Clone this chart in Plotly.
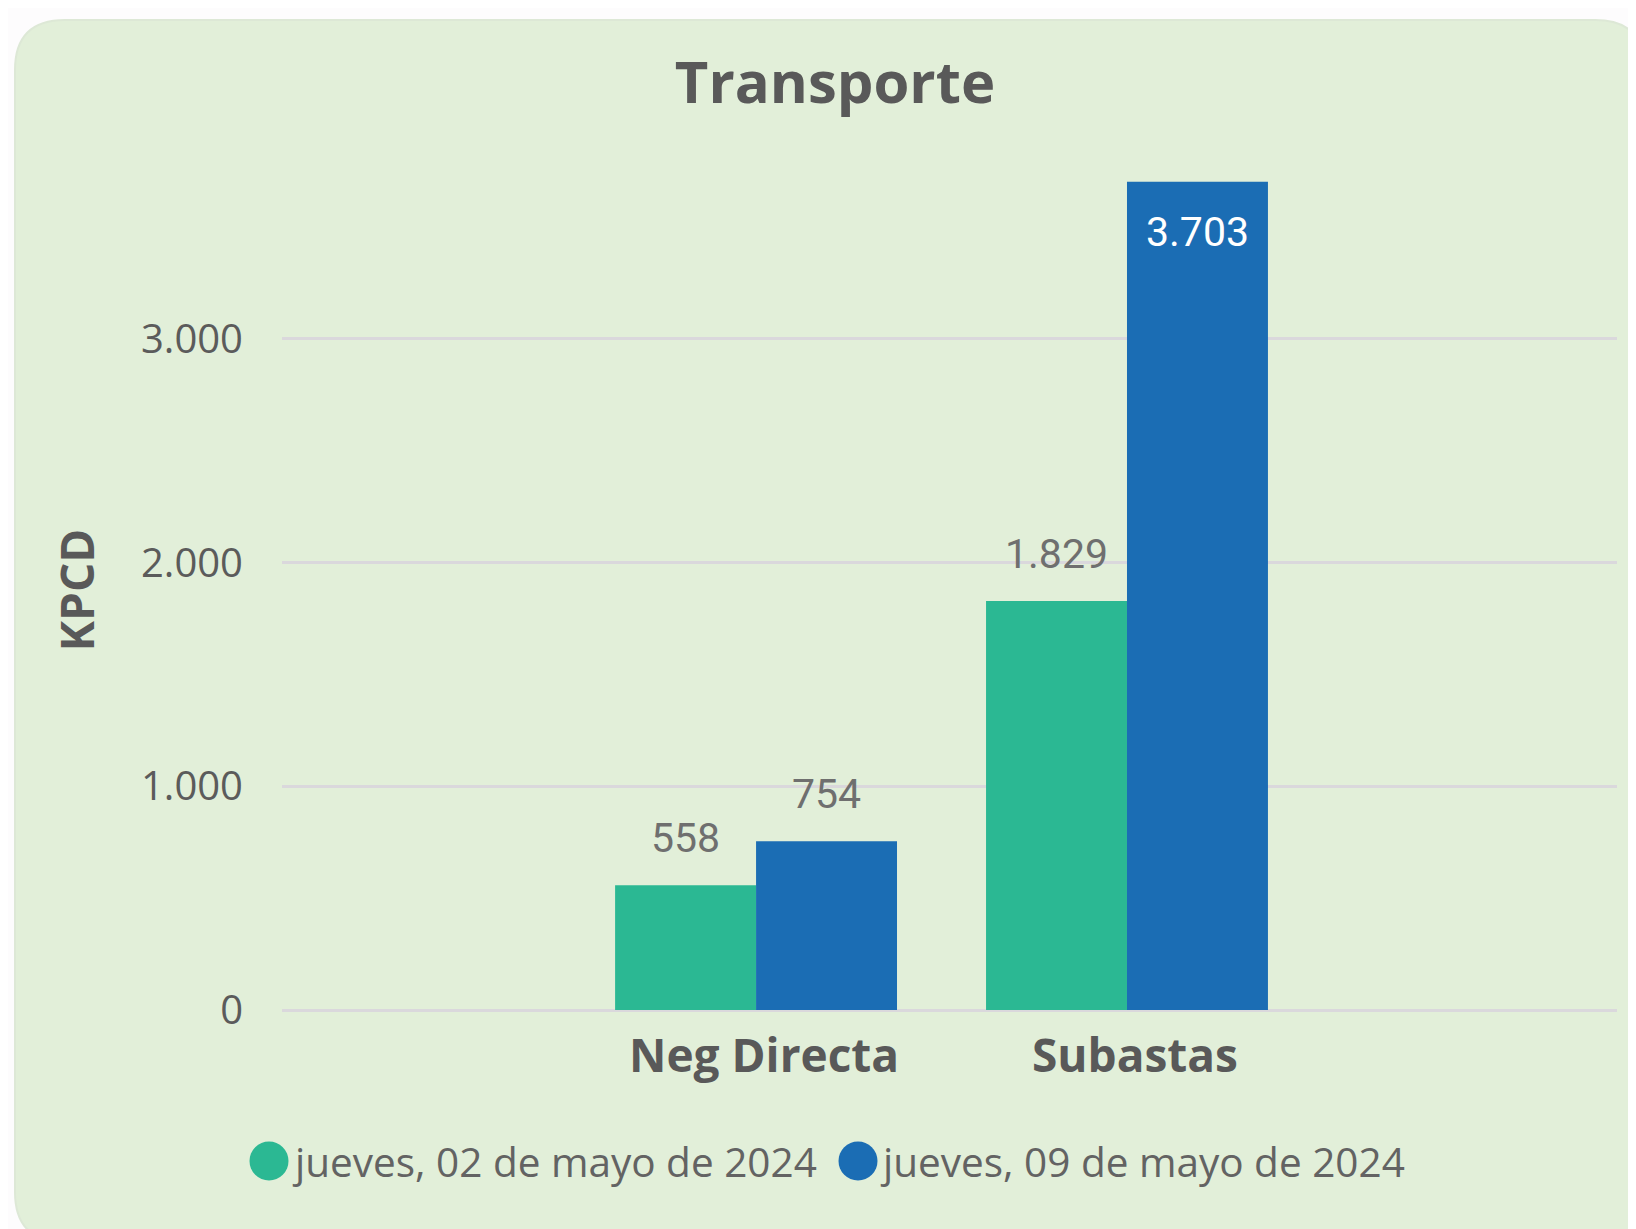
import plotly.graph_objects as go

# ---- data ----
categories = ["Neg Directa", "Subastas"]
series_names = ["jueves, 02 de mayo de 2024", "jueves, 09 de mayo de 2024"]
values_0502 = [558, 1829]
values_0509 = [754, 3703]
y_tick_vals = [0, 1000, 2000, 3000]

colors = ["#2bb893", "#1b6db4"]
series_values = [values_0502, values_0509]

OFF = 8  # page body margin
W, H = 1636 - OFF, 1229 - OFF
L, R, T = 282 - OFF, 19, 169 - OFF
PLOT_BOTTOM = 1010 - OFF
B = H - PLOT_BOTTOM
PW, PH = W - L - R, H - T - B
YMAX = 3760


def px2x(px):
    return (px - OFF - L) / PW


def py2y(py):
    return (PLOT_BOTTOM - (py - OFF)) / PH


def fmt(v):
    return f"{v:,}".replace(",", ".")


fig = go.Figure()
for name, vals, col in zip(series_names, series_values, colors):
    fig.add_trace(go.Bar(x=categories, y=vals, name=name, marker_color=col,
                         marker_line_width=0, showlegend=False))

# background panel (rounded rectangle)
x0, x1, y0, y1, r = 15, 1645, 20, 1242, 50
pts = lambda a, b: f"{px2x(a):.5f},{py2y(b):.5f}"
path = (f"M {pts(x0+r, y0)} L {pts(x1-r, y0)} Q {pts(x1, y0)} {pts(x1, y0+r)} "
        f"L {pts(x1, y1-r)} Q {pts(x1, y1)} {pts(x1-r, y1)} "
        f"L {pts(x0+r, y1)} Q {pts(x0, y1)} {pts(x0, y1-r)} "
        f"L {pts(x0, y0+r)} Q {pts(x0, y0)} {pts(x0+r, y0)} Z")
shapes = [dict(type="path", xref="paper", yref="paper", path=path,
               fillcolor="#e2efd9", line=dict(color="#dde8d6", width=2), layer="below")]

annotations = []
bar_half = 0.19 * PW / 3.599
for j, (vals, col) in enumerate(zip(series_values, colors)):
    xs = -bar_half if j == 0 else bar_half
    for cat, v in zip(categories, vals):
        inside = v > YMAX * 0.9
        annotations.append(dict(
            x=cat, y=v, xref="x", yref="y", text=fmt(v), showarrow=False,
            xshift=xs, yshift=(-50 if inside else 47), yanchor="middle",
            font=dict(family="Roboto", size=41,
                      color="#ffffff" if inside else "#6f6f6f")))

# y-axis title
annotations.append(dict(x=px2x(75), y=0.5, xref="paper", yref="paper", text="<b>KPCD</b>",
                        textangle=-90, showarrow=False, xanchor="center", yanchor="middle",
                        font=dict(family="Open Sans", size=46, color="#595959")))

# custom legend
leg_circle_px = [269, 858]
leg_text_px = [290, 878]
leg_y = 1161
for name, col, cx, tx in zip(series_names, colors, leg_circle_px, leg_text_px):
    shapes.append(dict(type="circle", xref="paper", yref="paper",
                       xsizemode="pixel", ysizemode="pixel",
                       xanchor=px2x(cx), yanchor=py2y(leg_y),
                       x0=-19.5, x1=19.5, y0=-19.5, y1=19.5,
                       fillcolor=col, line=dict(width=0)))
    annotations.append(dict(x=px2x(tx), y=py2y(leg_y), xref="paper", yref="paper",
                            text=name, showarrow=False, xanchor="left", yanchor="middle",
                            font=dict(family="Open Sans", size=40.5, color="#636363")))

fig.update_layout(
    width=W, height=H, autosize=False,
    margin=dict(l=L, r=R, t=T, b=B, pad=0),
    paper_bgcolor="#fdfcfd", plot_bgcolor="rgba(0,0,0,0)",
    separators=",.",
    barmode="group", bargap=0.24, bargroupgap=0,
    title=dict(text="<b>Transporte</b>", x=(835 - OFF) / W, xref="container", xanchor="center",
               y=1 - (83 - OFF) / H, yref="container", yanchor="middle",
               font=dict(family="Open Sans", size=58, color="#595959")),
    xaxis=dict(type="category", range=[-1.278, 2.321], showgrid=False, showline=False,
               ticks="outside", ticklen=6, tickcolor="rgba(0,0,0,0)", ticklabelshift=8,
               tickfont=dict(family="Open Sans", size=46, color="#595959", weight="bold")),
    yaxis=dict(range=[0, YMAX], tickvals=y_tick_vals, tickformat=",d",
               showgrid=True, gridcolor="#dad8dc", gridwidth=3,
               zeroline=True, zerolinecolor="#dad8dc", zerolinewidth=3,
               showline=False, ticks="outside", ticklen=30, tickcolor="rgba(0,0,0,0)",
               tickfont=dict(family="Open Sans", size=40, color="#5b5b5b")),
    shapes=shapes, annotations=annotations, showlegend=False,
)

fig.write_html("out.html")
